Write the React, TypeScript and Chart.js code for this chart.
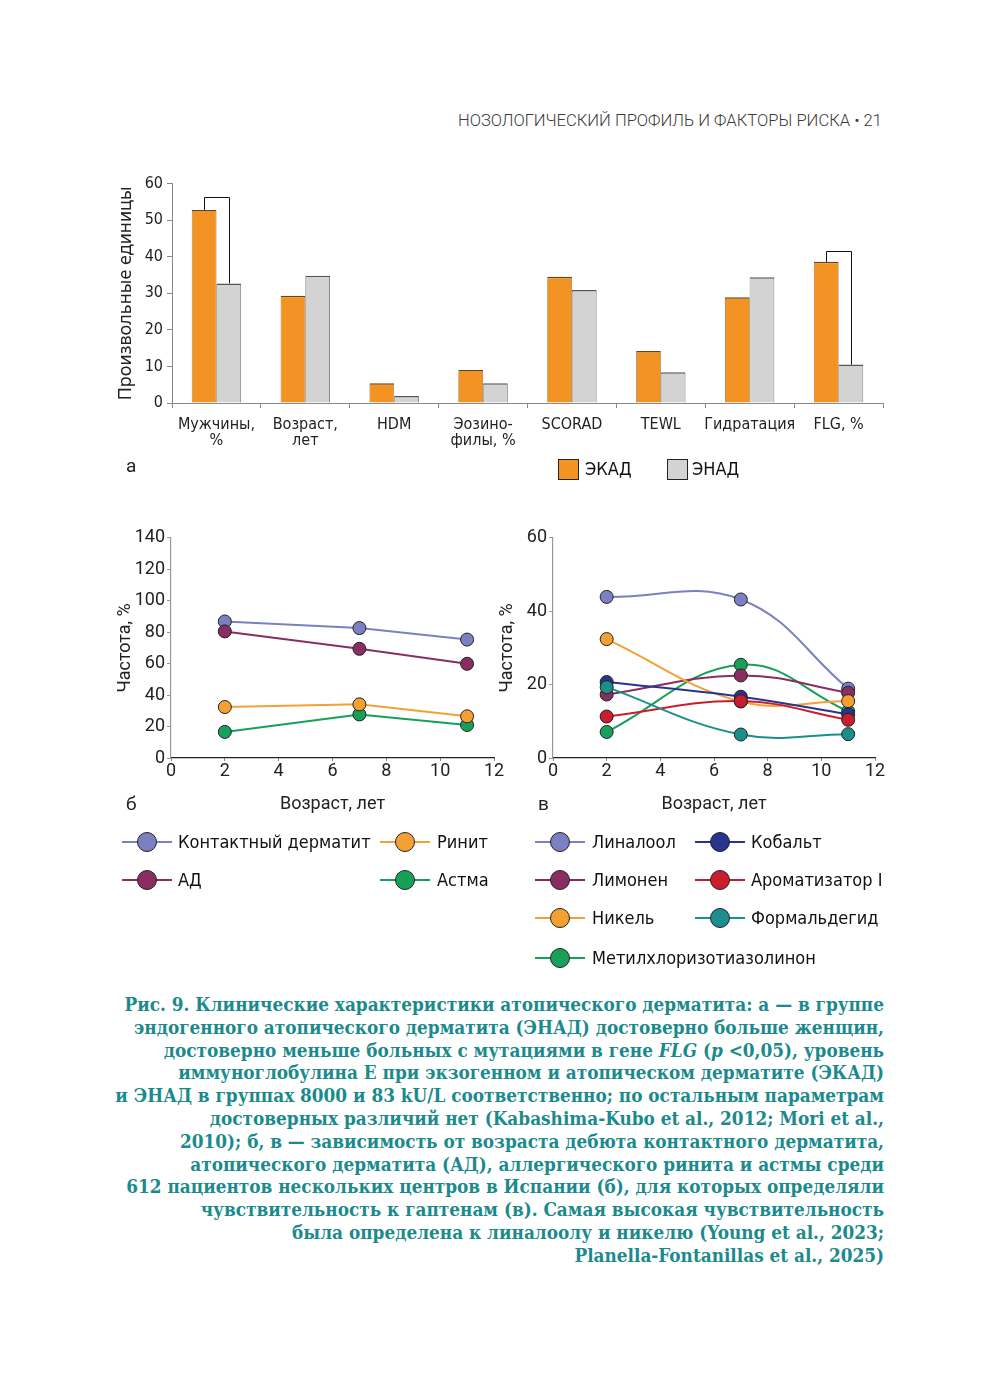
import React, { useEffect, useRef } from "react";
import { Chart, registerables } from "chart.js";
Chart.register(...registerables);

// ---------- DATA ----------
const barCategories: (string | string[])[] = [
  ["Мужчины,", "%"],
  ["Возраст,", "лет"],
  "HDM",
  ["Эозино-", "филы, %"],
  "SCORAD",
  "TEWL",
  "Гидратация",
  "FLG, %",
];
const ekadValues = [52.8, 29.3, 5.4, 9.0, 34.5, 14.2, 28.9, 38.6];
const enadValues = [32.7, 34.8, 1.9, 5.4, 30.9, 8.4, 34.4, 10.5];
const bracketIndices = [0, 7];
const bracketTops = [56.2, 41.5];

const ageX = [2, 7, 11];
const contactDermatitis = [86.8, 82.6, 75.3];
const atopicDermatitis = [80.5, 69.4, 59.9];
const rhinitis = [32.4, 34.1, 26.5];
const asthma = [16.6, 27.7, 21.0];

const linalool = [43.9, 43.2, 18.9];
const limonene = [17.3, 22.5, 17.8];
const nickel = [32.4, 15.4, 15.5];
const mci = [7.1, 25.4, 12.7];
const cobalt = [20.7, 16.7, 11.9];
const fragrance = [11.3, 15.5, 10.4];
const formaldehyde = [19.3, 6.4, 6.5];

const captionLines = [
  "Рис. 9. Клинические характеристики атопического дерматита: а — в группе",
  "эндогенного атопического дерматита (ЭНАД) достоверно больше женщин,",
  "__FLG__",
  "иммуноглобулина Е при экзогенном и атопическом дерматите (ЭКАД)",
  "и ЭНАД в группах 8000 и 83 kU/L соответственно; по остальным параметрам",
  "достоверных различий нет (Kabashima-Kubo et al., 2012; Mori et al.,",
  "2010); б, в — зависимость от возраста дебюта контактного дерматита,",
  "атопического дерматита (АД), аллергического ринита и астмы среди",
  "612 пациентов нескольких центров в Испании (б), для которых определяли",
  "чувствительность к гаптенам (в). Самая высокая чувствительность",
  "была определена к линалоолу и никелю (Young et al., 2023;",
  "Planella-Fontanillas et al., 2025)",
];

// ---------- STYLE ----------
const COND = "'Liberation Sans Narrow', 'DejaVu Sans Condensed', 'Roboto Condensed', 'Noto Sans', sans-serif";
const SANS = "Roboto, 'Noto Sans', sans-serif";
const COL = {
  lilac: "#7b80c2",
  plum: "#8a2d61",
  orange: "#f5a033",
  green: "#17a05a",
  navy: "#26358f",
  red: "#c81f2e",
  teal: "#1a8f8d",
  barOrange: "#f39323",
  barGray: "#d3d3d3",
};

const pts = (ys: number[]) => ageX.map((x, i) => ({ x, y: ys[i] }));

const bracketPlugin = {
  id: "brackets",
  afterDatasetsDraw(chart: any) {
    const ctx = chart.ctx;
    const y = chart.scales.y;
    const m0 = chart.getDatasetMeta(0).data;
    const m1 = chart.getDatasetMeta(1).data;
    ctx.save();
    ctx.strokeStyle = "#111";
    ctx.lineWidth = 1;
    bracketIndices.forEach((idx, k) => {
      const a = m0[idx];
      const b = m1[idx];
      const top = Math.round(y.getPixelForValue(bracketTops[k])) + 0.5;
      ctx.beginPath();
      ctx.moveTo(Math.round(a.x) + 0.5, a.y);
      ctx.lineTo(Math.round(a.x) + 0.5, top);
      ctx.lineTo(Math.round(b.x) + 0.5, top);
      ctx.lineTo(Math.round(b.x) + 0.5, b.y);
      ctx.stroke();
    });
    ctx.restore();
  },
};

function BarChart() {
  const ref = useRef<HTMLCanvasElement>(null);
  useEffect(() => {
    const chart = new Chart(ref.current!, {
      type: "bar",
      data: {
        labels: barCategories as any,
        datasets: [
          {
            label: "ЭКАД",
            data: ekadValues,
            backgroundColor: COL.barOrange,
            borderColor: "#6b4210",
            borderWidth: { top: 1.5, left: 0.6, right: 0.6, bottom: 0 },
            borderSkipped: false,
          },
          {
            label: "ЭНАД",
            data: enadValues,
            backgroundColor: COL.barGray,
            borderColor: "#555",
            borderWidth: { top: 1.5, left: 0.6, right: 0.8, bottom: 0 },
            borderSkipped: false,
          },
        ],
      },
      options: {
        animation: false,
        responsive: false,
        maintainAspectRatio: false,
        devicePixelRatio: 1,
        layout: { padding: { top: 12, right: 17, left: 0, bottom: 0 } },
        plugins: { legend: { display: false }, tooltip: { enabled: false } },
        datasets: { bar: { categoryPercentage: 0.555, barPercentage: 1 } } as any,
        scales: {
          x: {
            afterFit: (s: any) => { s.height = 57; },
            grid: { display: true, drawOnChartArea: false, drawTicks: true, tickLength: 5, offset: true, color: "#888" },
            border: { display: true, color: "#888", width: 1 },
            ticks: { font: { family: COND, size: 16, lineHeight: 1.0 }, color: "#222", padding: 9, maxRotation: 0, autoSkip: false },
          },
          y: {
            min: 0,
            max: 60,
            afterFit: (s: any) => { s.width = 72; },
            grid: { display: true, drawOnChartArea: false, drawTicks: true, tickLength: 5, color: "#888" },
            border: { display: true, color: "#888", width: 1 },
            ticks: { stepSize: 10, font: { family: COND, size: 16 }, color: "#222", padding: 4 },
            title: {
              display: true,
              text: "Произвольные единицы",
              font: { family: "'Noto Sans', sans-serif", size: 18, lineHeight: 1.2 },
              color: "#222",
              padding: { top: 15, bottom: 0 },
            },
          },
        },
      },
      plugins: [bracketPlugin],
    } as any);
    return () => chart.destroy();
  }, []);
  return <canvas ref={ref} width={800} height={290} style={{ position: "absolute", left: 100, top: 170, width: 800, height: 290 }} />;
}

type LineSeries = { label: string; data: number[]; color: string };

function LineChart(props: { left: number; yMax: number; yStep: number; yWidth: number; yTitlePad: number; padRight: number; tension: number; series: LineSeries[] }) {
  const ref = useRef<HTMLCanvasElement>(null);
  useEffect(() => {
    const chart = new Chart(ref.current!, {
      type: "line",
      data: {
        datasets: props.series.map((s) => ({
          label: s.label,
          data: pts(s.data),
          borderColor: s.color,
          backgroundColor: s.color,
          borderWidth: 2,
          pointRadius: 6.5,
          pointBorderColor: "#222",
          pointBorderWidth: 1,
          pointBackgroundColor: s.color,
          tension: props.tension,
          fill: false,
        })),
      },
      options: {
        animation: false,
        responsive: false,
        maintainAspectRatio: false,
        devicePixelRatio: 1,
        layout: { padding: { top: 11, right: props.padRight, left: 0, bottom: 0 } },
        plugins: { legend: { display: false }, tooltip: { enabled: false } },
        scales: {
          x: {
            type: "linear",
            min: 0,
            max: 12,
            afterFit: (s: any) => { s.height = 62; },
            grid: { display: true, drawOnChartArea: false, drawTicks: true, tickLength: 3, color: "#888" },
            border: { display: true, color: "#222", width: 1.2 },
            ticks: { stepSize: 2, font: { family: SANS, size: 18, lineHeight: 1.0 }, color: "#222", padding: 1 },
            title: {
              display: true,
              text: "Возраст, лет",
              font: { family: SANS, size: 18, lineHeight: 1.2 },
              color: "#222",
              padding: { top: 0, bottom: 5 },
            },
          },
          y: {
            min: 0,
            max: props.yMax,
            afterFit: (s: any) => { s.width = props.yWidth; },
            grid: { display: true, drawOnChartArea: false, drawTicks: true, tickLength: 4, color: "#999" },
            border: { display: true, color: "#999", width: 1.2 },
            ticks: { stepSize: props.yStep, font: { family: SANS, size: 18 }, color: "#222", padding: 2 },
            title: {
              display: true,
              text: "Частота, %",
              font: { family: SANS, size: 18, lineHeight: 1.2 },
              color: "#222",
              padding: { top: props.yTitlePad, bottom: 0 },
            },
          },
        },
      },
    } as any);
    return () => chart.destroy();
  }, []);
  return <canvas ref={ref} width={410} height={295} style={{ position: "absolute", left: props.left, top: 525, width: 410, height: 295 }} />;
}

const seriesB: LineSeries[] = [
  { label: "Ринит", data: rhinitis, color: COL.orange },
  { label: "Астма", data: asthma, color: COL.green },
  { label: "АД", data: atopicDermatitis, color: COL.plum },
  { label: "Контактный дерматит", data: contactDermatitis, color: COL.lilac },
];
const seriesV: LineSeries[] = [
  { label: "Формальдегид", data: formaldehyde, color: COL.teal },
  { label: "Ароматизатор I", data: fragrance, color: COL.red },
  { label: "Кобальт", data: cobalt, color: COL.navy },
  { label: "Никель", data: nickel, color: COL.orange },
  { label: "Лимонен", data: limonene, color: COL.plum },
  { label: "Метилхлоризотиазолинон", data: mci, color: COL.green },
  { label: "Линалоол", data: linalool, color: COL.lilac },
];

function LegendItem(p: { x: number; y: number; color: string; text: string; textX: number }) {
  return (
    <>
      <div style={{ position: "absolute", left: p.x, top: p.y - 1, width: 50, height: 2, background: p.color }} />
      <div style={{ position: "absolute", left: p.x + 15, top: p.y - 10, width: 18, height: 18, borderRadius: "50%", background: p.color, border: "1px solid #222" }} />
      <div style={{ position: "absolute", left: p.textX, top: p.y - 12, height: 24, lineHeight: "24px", fontFamily: COND, fontSize: 18, color: "#111", whiteSpace: "nowrap" }}>{p.text}</div>
    </>
  );
}

export default function App() {
  const legB = [
    { x: 122, tx: 178, y: 842, label: "Контактный дерматит", color: COL.lilac },
    { x: 380, tx: 437, y: 842, label: "Ринит", color: COL.orange },
    { x: 122, tx: 178, y: 880, label: "АД", color: COL.plum },
    { x: 380, tx: 437, y: 880, label: "Астма", color: COL.green },
  ];
  const legV = [
    { x: 535, tx: 592, y: 842, label: "Линалоол", color: COL.lilac },
    { x: 695, tx: 751, y: 842, label: "Кобальт", color: COL.navy },
    { x: 535, tx: 592, y: 880, label: "Лимонен", color: COL.plum },
    { x: 695, tx: 751, y: 880, label: "Ароматизатор I", color: COL.red },
    { x: 535, tx: 592, y: 918, label: "Никель", color: COL.orange },
    { x: 695, tx: 751, y: 918, label: "Формальдегид", color: COL.teal },
    { x: 535, tx: 592, y: 958, label: "Метилхлоризотиазолинон", color: COL.green },
  ];
  const capFont = "'DejaVu Serif Condensed', 'DejaVu Serif', serif";
  return (
    <div style={{ position: "absolute", left: 0, top: 0, width: 1000, height: 1393, background: "#fff", overflow: "hidden" }}>
      <div style={{ position: "absolute", right: 118, top: 109, height: 24, lineHeight: "24px", fontFamily: SANS, fontWeight: 300, fontSize: 16.6, color: "#3a3a3a", whiteSpace: "nowrap" }}>
        НОЗОЛОГИЧЕСКИЙ ПРОФИЛЬ И ФАКТОРЫ РИСКА • 21
      </div>

      <BarChart />
      <div style={{ position: "absolute", left: 126, top: 454, fontFamily: SANS, fontSize: 19, color: "#222" }}>а</div>
      <div style={{ position: "absolute", left: 558, top: 459, width: 19, height: 19, background: COL.barOrange, border: "1px solid #222" }} />
      <div style={{ position: "absolute", left: 585, top: 457, lineHeight: "24px", fontFamily: COND, fontSize: 18, color: "#111" }}>ЭКАД</div>
      <div style={{ position: "absolute", left: 667, top: 459, width: 19, height: 19, background: COL.barGray, border: "1px solid #222" }} />
      <div style={{ position: "absolute", left: 692, top: 457, lineHeight: "24px", fontFamily: COND, fontSize: 18, color: "#111" }}>ЭНАД</div>

      <LineChart left={100} yMax={140} yStep={20} yWidth={71} yTitlePad={15} padRight={16} tension={0} series={seriesB} />
      <LineChart left={480} yMax={60} yStep={20} yWidth={73} yTitlePad={17} padRight={15} tension={0.4} series={seriesV} />
      <div style={{ position: "absolute", left: 126, top: 792, fontFamily: SANS, fontSize: 19, color: "#222" }}>б</div>
      <div style={{ position: "absolute", left: 538, top: 792, fontFamily: SANS, fontSize: 19, color: "#222" }}>в</div>

      {legB.map((l) => <LegendItem key={l.label} x={l.x} y={l.y} textX={l.tx} color={l.color} text={l.label} />)}
      {legV.map((l) => <LegendItem key={l.label} x={l.x} y={l.y} textX={l.tx} color={l.color} text={l.label} />)}

      <div style={{ position: "absolute", right: 116, top: 993, textAlign: "right", fontFamily: capFont, fontStretch: "condensed", fontWeight: 700, fontSize: 18.8, lineHeight: "22.8px", color: "#1b8a8c", whiteSpace: "nowrap" }}>
        {captionLines.map((line, i) =>
          line === "__FLG__" ? (
            <div key={i}>достоверно меньше больных с мутациями в гене <i>FLG</i> (<i>p</i> &lt;0,05), уровень</div>
          ) : (
            <div key={i}>{line}</div>
          )
        )}
      </div>
    </div>
  );
}
